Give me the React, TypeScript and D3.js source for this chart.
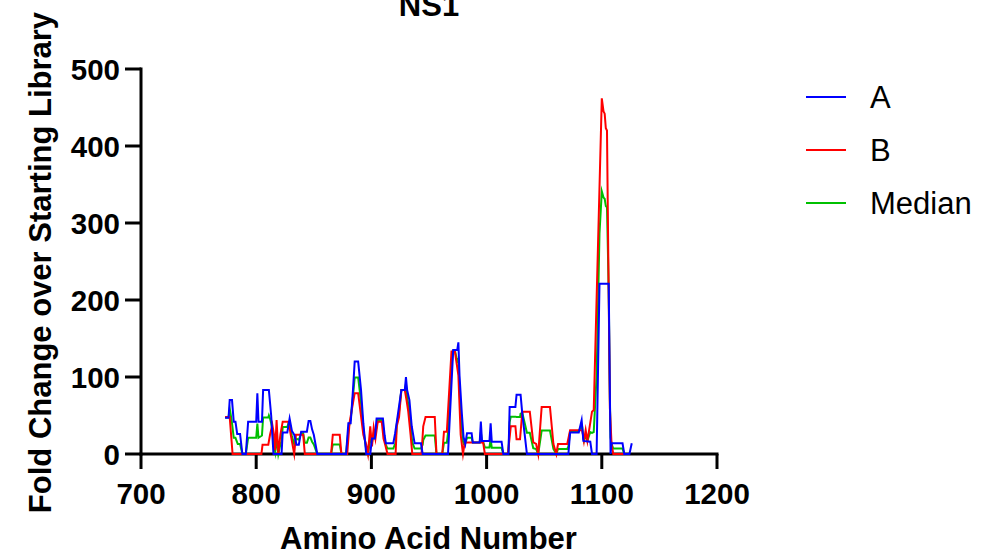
import React from 'react';
import * as d3 from 'd3';

const xTicks = [700, 800, 900, 1000, 1100, 1200];
const yTicks = [0, 100, 200, 300, 400, 500];
const seriesNames = ['A', 'B', 'Median'];
const seriesColors = ['#0000ff', '#ff0000', '#00c000'];

const seriesA: [number, number][] = [
  [773, 47], [776, 47], [777, 70], [779, 70], [780.5, 42], [782, 42], [783.5, 26], [786, 26], [788, 0], [791, 0],
  [793, 42], [800, 42], [801, 79], [802, 42], [805, 42], [806, 83], [811, 83], [813, 50], [815, 0], [822, 0],
  [823, 28], [827, 28], [829, 46], [831, 30], [833, 25], [835, 12], [837, 12], [839, 29], [844, 29], [845.5, 43],
  [847, 43], [848.5, 32], [850, 25], [853, 0], [878, 0], [880, 40], [882, 40], [884, 83], [885.5, 120], [888.5, 120],
  [891, 83], [893, 40], [895.5, 0], [899, 0], [900.5, 20], [903, 20], [904.5, 46], [910, 46], [911.5, 24], [912.5, 14],
  [919, 14], [920.5, 26], [922, 41], [926, 83], [929, 83], [930, 100], [931, 83], [933, 70], [935, 36], [937.5, 14],
  [943, 14], [944.5, 0], [966.5, 0], [971, 135], [974.5, 135], [975.5, 145], [976.5, 102], [978.5, 53], [980, 22], [981.5, 13],
  [983, 27], [987, 27], [988, 15], [994, 15], [995, 42], [996, 17], [1002.5, 17], [1003.5, 40], [1004.5, 16], [1013, 16],
  [1014.5, 0], [1019, 0], [1020, 61], [1025, 61], [1026, 77], [1029.5, 77], [1031, 52], [1033, 26], [1035, 0], [1071, 0],
  [1072.5, 28], [1080, 28], [1082.5, 44], [1084, 17], [1090, 16], [1091.5, 0], [1095.5, 0], [1098, 221], [1106, 221], [1107.6, 0],
  [1108.5, 14], [1118, 14], [1119.5, 0], [1124, 0], [1126, 14],
];

const seriesB: [number, number][] = [
  [773, 48], [777, 48], [779.5, 0], [804.5, 0], [805.5, 12], [810.5, 12], [812, 25], [814, 38], [815.5, 25], [816.5, 5],
  [817.7, 44], [819.2, 0], [821, 25], [823, 42], [828, 42], [830, 25], [833, 0], [834.5, 25], [840.8, 25], [842.2, 0],
  [865, 0], [866.5, 25], [872.5, 25], [874, 0], [879, 0], [881, 40], [885.5, 79], [888.5, 79], [890.5, 55], [893, 25],
  [895.5, 12], [897, 0], [899, 36], [900.5, 10], [902, 34], [903.5, 20], [905.5, 42], [909, 42], [910.5, 20], [912, 12],
  [914, 0], [921, 0], [922, 36], [924, 48], [926, 83], [929, 83], [930.5, 70], [932, 55], [934, 25], [935.5, 0],
  [943.5, 0], [945, 36], [947, 48], [955, 48], [956.5, 0], [961.5, 0], [963, 29], [965.5, 29], [969.5, 133], [972.5, 133],
  [975.5, 102], [977.5, 25], [979.5, 0], [981, 15], [997, 15], [998.5, 0], [1018.5, 0], [1021, 36], [1025, 36], [1026, 19],
  [1029, 19], [1031, 55], [1037.5, 55], [1040.5, 15], [1043, 13], [1044.8, 0], [1047.8, 61], [1055, 61], [1058, 13], [1060.5, 0],
  [1062, 13], [1070, 13], [1072.5, 31], [1083, 31], [1084.5, 17], [1086, 31], [1087.5, 17], [1089, 31], [1091.5, 55], [1093, 57],
  [1100, 462], [1101.5, 445], [1102.5, 442], [1103.5, 423], [1104.5, 420], [1107, 60], [1108.5, 12], [1110, 0], [1120, 0],
];

const seriesMedian: [number, number][] = [
  [773, 47.5], [776, 47.5], [777, 59], [778, 50], [779, 40], [780.5, 21], [782, 21], [784, 13], [786, 13], [788, 0],
  [791, 0], [793, 21], [800, 21], [801, 39.5], [802, 21], [805, 24], [806, 47.5], [810.5, 47.5], [811, 50], [812, 46],
  [813, 40], [814, 31], [815, 15], [816.5, 2.5], [817.7, 22], [819.2, 0], [821, 12.5], [822, 16.5], [823, 35], [827, 35],
  [828, 40], [829, 40], [830, 31.5], [831, 23.5], [833, 12.5], [834.5, 20], [837, 18.5], [839, 27], [840.8, 27], [842.2, 14.5],
  [844, 14.5], [845.5, 21.5], [847, 21.5], [848.5, 16], [850, 12.5], [853, 0], [865, 0], [866.5, 12.5], [872.5, 12.5], [874, 0],
  [878, 0], [880, 30], [881, 40], [882, 44.5], [884, 74.5], [885.5, 99.5], [888.5, 99.5], [890.5, 74], [891, 66], [893, 32.5],
  [895.5, 6], [897, 0], [899, 18], [900.5, 15], [902, 27], [903, 22.5], [904.5, 35.5], [905.5, 44], [909, 44], [910, 36.5],
  [911.5, 19.5], [912.5, 12], [914, 7], [919, 7], [920.5, 13], [921, 15.5], [922, 38.5], [924, 55], [926, 83], [929, 83],
  [930, 91], [931, 74], [933, 55], [934, 39], [935, 22], [935.5, 15], [937.5, 7], [943, 7], [944.5, 12], [945, 18],
  [947, 24], [955, 24], [956.5, 0], [961.5, 0], [963, 14.5], [965.5, 14.5], [966.5, 27.5], [969.5, 114.5], [971, 134], [972.5, 134],
  [974.5, 121], [975.5, 123], [976.5, 82.5], [977.5, 51], [978.5, 32.5], [979.5, 16], [980, 13.5], [981, 15.5], [981.5, 14], [983, 21],
  [987, 21], [988, 15], [994, 15], [995, 28.5], [996, 16], [997, 16], [998.5, 8.5], [1002.5, 8.5], [1003.5, 20], [1004.5, 8],
  [1013, 8], [1014.5, 0], [1018.5, 0], [1019, 3.5], [1020, 41.5], [1021, 48.5], [1025, 48.5], [1026, 48], [1029, 48], [1029.5, 52.5],
  [1031, 53.5], [1033, 40.5], [1035, 27.5], [1037.5, 27.5], [1040.5, 7.5], [1043, 6.5], [1044.8, 0], [1047.8, 30.5], [1055, 30.5], [1058, 6.5],
  [1060.5, 0], [1062, 6.5], [1070, 6.5], [1071, 10], [1072.5, 29.5], [1080, 29.5], [1082.5, 37.5], [1083, 35], [1084, 20.5], [1084.5, 17],
  [1086, 24], [1087.5, 17], [1089, 24], [1090, 28.5], [1091.5, 27.5], [1093, 28.5], [1095.5, 102], [1098, 286.5], [1100, 341], [1101.5, 333],
  [1102.5, 331.5], [1103.5, 322], [1104.5, 320.5], [1106, 212.5], [1107, 71.5], [1107.6, 21.5], [1108.5, 13], [1110, 7], [1118, 7], [1119.5, 0],
  [1120, 0],
];

const FONT = '"Liberation Sans", Arial, Helvetica, sans-serif';

export default function App() {
  const W = 994;
  const H = 556;
  const x = d3.scaleLinear().domain([700, 1200]).range([141, 717]);
  const y = d3.scaleLinear().domain([0, 500]).range([454, 69]);
  const line = d3
    .line<[number, number]>()
    .x((d) => x(d[0]))
    .y((d) => y(d[1]));

  const allSeries = [seriesA, seriesB, seriesMedian];
  const drawOrder = [2, 1, 0];
  const legendY = [97, 150, 203];

  return (
    <svg
      width={W}
      height={H}
      viewBox={`0 0 ${W} ${H}`}
      style={{ position: 'absolute', left: 0, top: 0, background: '#fff', display: 'block' }}
      fontFamily={FONT}
    >
      <rect x={0} y={0} width={W} height={H} fill="#fff" />
      <text x={429} y={16} textAnchor="middle" fontSize={31} fontWeight="bold" fill="#000">
        NS1
      </text>

      {/* axes */}
      <g stroke="#000" strokeWidth={3} fill="none">
        <line x1={x(700)} x2={x(1200)} y1={y(0)} y2={y(0)} strokeLinecap="square" />
        <line x1={x(700)} x2={x(700)} y1={y(0)} y2={y(500)} strokeLinecap="square" />
        {yTicks.map((t) => (
          <line key={'yt' + t} x1={x(700) - 16} x2={x(700)} y1={y(t)} y2={y(t)} />
        ))}
        {xTicks.map((t) => (
          <line key={'xt' + t} x1={x(t)} x2={x(t)} y1={y(0)} y2={y(0) + 15} />
        ))}
      </g>
      {yTicks.map((t) => (
        <text key={'yl' + t} x={120} y={y(t) + 10.5} textAnchor="end" fontSize={29.5} fontWeight="bold" fill="#000">
          {t}
        </text>
      ))}
      {xTicks.map((t) => (
        <text key={'xl' + t} x={x(t)} y={503.5} textAnchor="middle" fontSize={29.5} fontWeight="bold" fill="#000">
          {t}
        </text>
      ))}
      <text x={428.5} y={548.5} textAnchor="middle" fontSize={31} fontWeight="bold" fill="#000">
        Amino Acid Number
      </text>
      <text
        transform={`translate(51, 262.5) rotate(-90)`}
        textAnchor="middle"
        fontSize={31}
        fontWeight="bold"
        fill="#000"
      >
        Fold Change over Starting Library
      </text>

      {/* data */}
      {drawOrder.map((i) => (
        <path
          key={'s' + i}
          d={line(allSeries[i]) || ''}
          fill="none"
          stroke={seriesColors[i]}
          strokeWidth={2}
          strokeLinejoin="miter"
          strokeMiterlimit={8}
        />
      ))}

      {/* legend */}
      {seriesNames.map((n, i) => (
        <g key={'lg' + n}>
          <line x1={806} x2={846} y1={legendY[i]} y2={legendY[i]} stroke={seriesColors[i]} strokeWidth={2} />
          <text x={870} y={legendY[i] + 11} fontSize={31} fill="#000">
            {n}
          </text>
        </g>
      ))}
    </svg>
  );
}
